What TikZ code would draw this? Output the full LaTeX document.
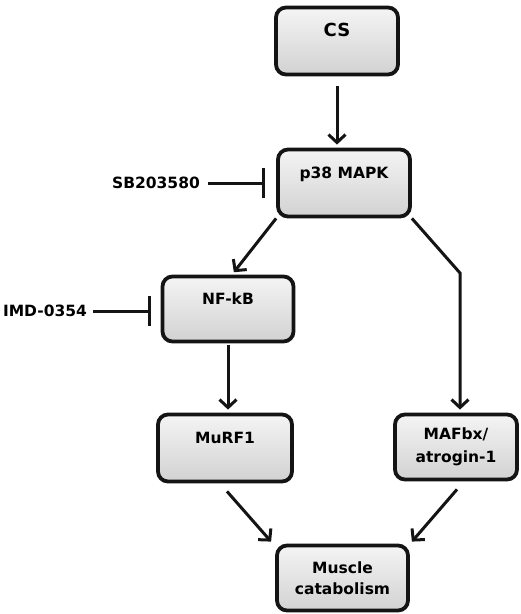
\documentclass[tikz,border=0pt]{standalone}
\usepackage{fontspec}
\setmainfont{DejaVu Sans}
\usepackage{tikz}
\usetikzlibrary{arrows.meta,positioning,calc}
\definecolor{boxline}{HTML}{141414}
\definecolor{boxtop}{HTML}{F4F4F4}
\definecolor{boxbot}{HTML}{D2D2D2}
\tikzset{
  blk/.style={draw=boxline, rounded corners=10pt, line width=3.8pt, top color=boxtop, bottom color=boxbot, align=center, inner sep=0pt, font=\fontsize{15.5}{23}\selectfont\bfseries},
  blkone/.style={blk, text height=11pt, text depth=20pt},
  ar/.style={-{Straight Barb[length=8pt,width=17pt,line width=3pt]}, line width=3pt, draw=boxline},
  inh/.style={-{Bar[width=30pt,line width=3pt]}, line width=3pt, draw=boxline},
  lbl/.style={font=\fontsize{15.5}{17}\selectfont\bfseries, inner sep=0pt},
}
\begin{document}
\begin{tikzpicture}[x=1pt,y=-1pt]
  \useasboundingbox (0,0) rectangle (521,614);
  % boxes
  \node[blkone, minimum width=122pt, minimum height=67pt, font=\fontsize{18}{20}\selectfont\bfseries] (cs) at (337,41) {CS};
  \node[blkone, minimum width=132pt, minimum height=67pt] (p38) at (344,183) {p38 MAPK};
  \node[blkone, minimum width=131pt, minimum height=65pt] (nfkb) at (228,309) {NF-kB};
  \node[blkone, minimum width=134pt, minimum height=67pt] (murf) at (225,448) {MuRF1};
  \node[blk, minimum width=122pt, minimum height=65pt] (mafbx) at (456,447) {MAFbx/\\atrogin-1};
  \node[blk, minimum width=131pt, minimum height=65pt, font=\fontsize{15.5}{21}\selectfont\bfseries] (musc) at (342.5,578) {Muscle\\catabolism};
  % inhibitors
  \node[lbl] (sb) at (156,183) {SB203580};
  \node[lbl] (imd) at (45,311) {IMD-0354};
  \draw[inh] ([xshift=8pt]sb.east) -- ([xshift=-11pt]p38.west);
  \draw[inh] ([xshift=6pt]imd.east) -- ([xshift=-10pt]nfkb.west |- imd.east);
  % arrows
  \coordinate (bend) at (460,273);
  \draw[ar, shorten <=10pt, shorten >=3pt] (cs.south) -- (cs.south |- p38.north);
  \draw[ar, shorten >=3pt] (p38.south west) -- ([xshift=4pt]nfkb.north);
  \draw[ar, shorten >=3pt] (p38.south east) -- (bend) -- (bend |- mafbx.north);
  \draw[ar, shorten <=2pt, shorten >=3pt] (nfkb.south) -- (nfkb.south |- murf.north);
  \draw[ar] ([shift={(2,8)}]murf.south) -- ([shift={(-4,-2)}]musc.north west);
  \draw[ar] ([shift={(1,8)}]mafbx.south) -- ([shift={(2,-2)}]musc.north east);
\end{tikzpicture}
\end{document}
